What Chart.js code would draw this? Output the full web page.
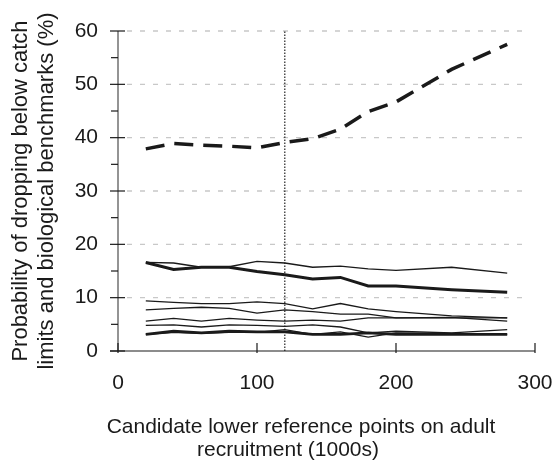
<!DOCTYPE html>
<html>
<head>
<meta charset="utf-8">
<script src="https://cdn.jsdelivr.net/npm/chart.js@4.4.1/dist/chart.umd.min.js"></script>
<style>
  html, body { margin: 0; padding: 0; background: #fff; }
  #wrap { width: 557px; height: 466px; }
</style>
</head>
<body>
<div id="wrap"><canvas id="probChart"></canvas></div>
<script>
// candidate lower reference points (1000s)
var refPoints = [20, 40, 60, 80, 100, 120, 140, 160, 180, 200, 240, 280]

// probabilities (%)
var dashedTop = [37.9, 38.9, 38.6, 38.4, 38.1, 39.1, 39.8, 41.6, 44.9, 46.7, 52.8, 57.5]
var thickUpper = [16.6, 15.3, 15.7, 15.7, 14.9, 14.3, 13.5, 13.8, 12.2, 12.2, 11.5, 11.0]
var thinUpper = [16.6, 16.5, 15.7, 15.8, 16.8, 16.5, 15.7, 15.9, 15.4, 15.1, 15.7, 14.6]
var lineC = [9.4, 9.1, 8.9, 8.9, 9.2, 8.9, 7.9, 8.9, 7.9, 7.4, 6.6, 6.2]
var lineD = [7.7, 8.0, 8.2, 8.0, 7.1, 7.7, 7.4, 6.9, 6.9, 6.2, 6.2, 6.2]
var lineE = [5.6, 6.1, 5.6, 6.1, 5.8, 5.6, 5.8, 5.6, 6.2, 6.2, 6.3, 5.6]
var lineF = [4.8, 4.9, 4.5, 4.9, 4.8, 4.6, 4.9, 4.5, 3.4, 3.7, 3.4, 4.0]
var thickLower = [3.1, 3.7, 3.4, 3.7, 3.6, 3.6, 3.1, 3.1, 3.4, 3.1, 3.1, 3.1]
var thinLower = [3.1, 3.5, 3.3, 3.5, 3.5, 4.0, 3.1, 3.6, 2.6, 3.4, 3.3, 3.1]

// current reference point marked with the dotted line
var currentRef = 120

var xTicks = [0, 100, 200, 300]
var yTicks = [0, 10, 20, 30, 40, 50, 60]
var xTitle = ['Candidate lower reference points on adult', 'recruitment (1000s)']

function pts(ys) {
  return refPoints.map(function (x, i) { return { x: x, y: ys[i] } })
}

function series(ys, width, dash) {
  return {
    data: pts(ys),
    borderColor: '#1a1a1a',
    borderWidth: width,
    borderDash: dash || [],
    pointRadius: 0,
    fill: false,
    tension: 0
  }
}

// dashed grid, axis lines, ticks and x title drawn like the original figure
var axesPlugin = {
  id: 'axesPlugin',
  beforeDatasetsDraw: function (chart) {
    var ctx = chart.ctx
    var xs = chart.scales.x
    var ys = chart.scales.y
    var area = chart.chartArea
    ctx.save()
    ctx.strokeStyle = '#c8c8c8'
    ctx.lineWidth = 1.3
    ctx.setLineDash([5, 8])
    yTicks.forEach(function (v) {
      if (v === 0) return
      var py = ys.getPixelForValue(v)
      ctx.beginPath()
      ctx.moveTo(area.left + 9, py)
      ctx.lineTo(xs.getPixelForValue(295), py)
      ctx.stroke()
    })
    ctx.restore()
  },
  afterDraw: function (chart) {
    var ctx = chart.ctx
    var xs = chart.scales.x
    var ys = chart.scales.y
    var area = chart.chartArea
    var y0 = ys.getPixelForValue(0)
    ctx.save()
    // y axis
    ctx.strokeStyle = '#707070'
    ctx.lineWidth = 1.5
    ctx.beginPath()
    ctx.moveTo(area.left, ys.getPixelForValue(60))
    ctx.lineTo(area.left, y0)
    ctx.stroke()
    ctx.strokeStyle = '#1a1a1a'
    ctx.lineWidth = 1.2
    for (var v = 0; v <= 60; v += 5) {
      var py = ys.getPixelForValue(v)
      ctx.beginPath()
      if (v % 10 === 0) {
        ctx.moveTo(area.left - 8, py)
        ctx.lineTo(area.left + 7, py)
      } else {
        ctx.moveTo(area.left - 7, py)
        ctx.lineTo(area.left, py)
      }
      ctx.stroke()
    }
    // x axis
    ctx.beginPath()
    ctx.moveTo(area.left - 8, y0)
    ctx.lineTo(xs.getPixelForValue(300), y0)
    ctx.stroke()
    xTicks.forEach(function (t) {
      var px = xs.getPixelForValue(t)
      ctx.beginPath()
      ctx.moveTo(px, y0 + 2)
      ctx.lineTo(px, y0 - 8)
      ctx.stroke()
    })
    // x axis title, two centred lines as in the figure
    ctx.fillStyle = '#1a1a1a'
    ctx.font = '21px "Liberation Sans"'
    ctx.textAlign = 'center'
    ctx.textBaseline = 'middle'
    ctx.fillText(xTitle[0], 301, 427)
    ctx.fillText(xTitle[1], 288, 450)
    ctx.restore()
  }
}

var probCanvas = document.getElementById('probChart').getContext('2d')

new Chart(probCanvas, {
  type: 'line',
  data: {
    datasets: [
      series(dashedTop, 3.5, [19, 10]),
      series(thickUpper, 3),
      series(thinUpper, 1.3),
      series(lineC, 1.3),
      series(lineD, 1.3),
      series(lineE, 1.3),
      series(lineF, 1.3),
      series(thickLower, 2.8),
      series(thinLower, 1.3),
      {
        data: [{ x: currentRef, y: 0 }, { x: currentRef, y: 60 }],
        borderColor: '#222',
        borderWidth: 1.2,
        borderDash: [1.5, 1.5],
        pointRadius: 0,
        fill: false
      }
    ]
  },
  options: {
    responsive: true,
    maintainAspectRatio: false,
    animation: false,
    layout: { padding: { top: 31, right: 22, left: 0, bottom: 0 } },
    plugins: {
      legend: { display: false },
      tooltip: { enabled: false }
    },
    scales: {
      x: {
        type: 'linear',
        min: 0,
        max: 300,
        afterBuildTicks: function (axis) {
          axis.ticks = xTicks.map(function (v) { return { value: v } })
        },
        afterFit: function (axis) {
          axis.height = 115
          axis.paddingLeft = 0
          axis.paddingRight = 0
        },
        grid: { display: false, drawTicks: false },
        border: { display: false },
        ticks: {
          color: '#1a1a1a',
          font: { family: 'Liberation Sans', size: 21 },
          padding: 20,
          maxRotation: 0
        },
        title: { display: false }
      },
      y: {
        min: 0,
        max: 60,
        afterBuildTicks: function (axis) {
          axis.ticks = yTicks.map(function (v) { return { value: v } })
        },
        afterFit: function (axis) {
          axis.width = 118
          axis.paddingTop = 0
          axis.paddingBottom = 0
        },
        ticks: {
          color: '#1a1a1a',
          font: { family: 'Liberation Sans', size: 21 },
          padding: 20
        },
        grid: { display: false, drawTicks: false },
        border: { display: false },
        title: {
          display: true,
          text: ['Probability of dropping below catch', 'limits and biological benchmarks (%)'],
          color: '#1a1a1a',
          font: { family: 'Liberation Sans', size: 22, lineHeight: 1.18 },
          padding: { top: 8, bottom: 0 }
        }
      }
    }
  },
  plugins: [axesPlugin]
})
</script>
</body>
</html>
